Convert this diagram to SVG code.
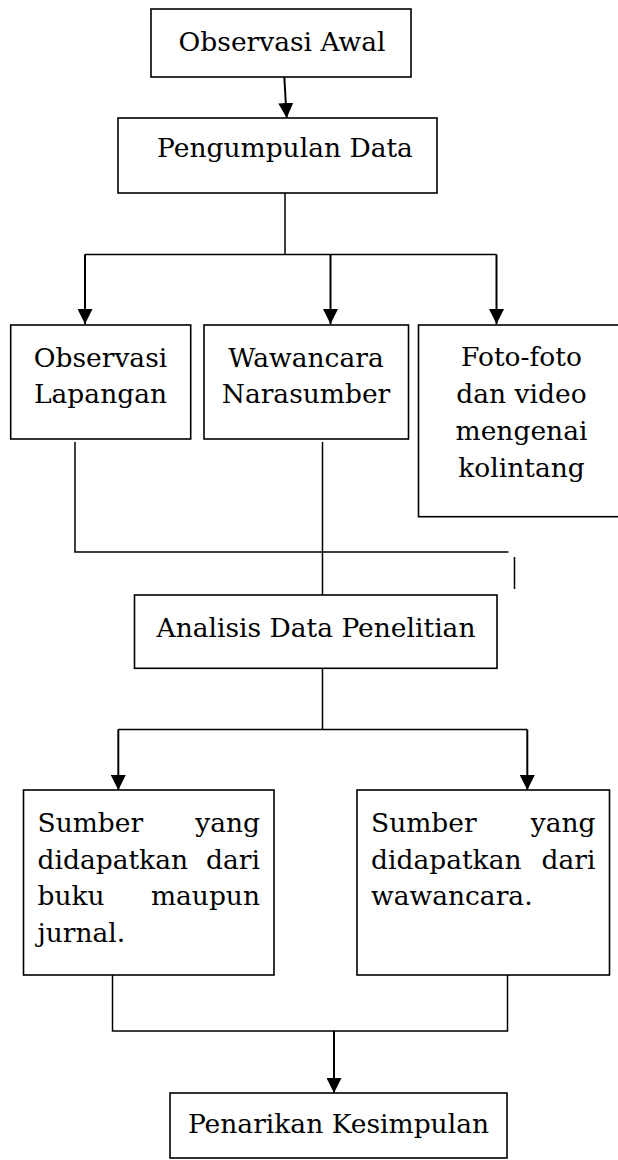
<svg xmlns="http://www.w3.org/2000/svg" width="618" height="1160" viewBox="0 0 618 1160">
<style>
.box{fill:#fff;stroke:#000;stroke-width:1.6}
.t{font-family:"DejaVu Serif","Liberation Serif",serif;font-size:26.5px;fill:#000}
.c{text-anchor:middle}
.e{text-anchor:end}
.ln{fill:none;stroke:#000;stroke-width:1.5}
.ar{fill:none;stroke:#000;stroke-width:2;marker-end:url(#ah)}
</style>
<defs>
<marker id="ah" markerUnits="userSpaceOnUse" markerWidth="15" markerHeight="15" refX="15" refY="7.5" orient="auto" viewBox="0 0 15 15">
<path d="M0,0 L15,7.5 L0,15 z" fill="#000"/>
</marker>
</defs>
<rect width="618" height="1160" fill="#fff"/>
<g id="connectors">
<path class="ar" d="M284.3,77 L286.7,118"/>
<path class="ln" d="M285,193 V254.5 M84.7,254.5 H496.6"/>
<path class="ar" d="M85,254.5 V324"/>
<path class="ar" d="M330.5,254.5 V324"/>
<path class="ar" d="M496.5,254.5 V324"/>
<path class="ln" d="M75,442 V552 H508.5"/>
<path class="ln" d="M322.5,442 V595"/>
<path class="ln" d="M514.5,557 V589"/>
<path class="ln" d="M322.5,668 V729.5 M118.3,729.5 H527.3"/>
<path class="ar" d="M118.3,729.5 V790"/>
<path class="ar" d="M527.3,729.5 V790"/>
<path class="ln" d="M112.5,975 V1031 H507.5 V975"/>
<path class="ar" d="M334,1031 V1093"/>
</g>
<g id="n1">
<rect class="box" x="151" y="9" width="260" height="68"/>
<text class="t c" x="282" y="51">Observasi Awal</text>
</g>
<g id="n2">
<rect class="box" x="118" y="118" width="319" height="75"/>
<text class="t c" x="285" y="157">Pengumpulan Data</text>
</g>
<g id="n3">
<rect class="box" x="10.7" y="325" width="180" height="114"/>
<text class="t c" x="100.5" y="366.5">Observasi</text>
<text class="t c" x="100.5" y="403">Lapangan</text>
</g>
<g id="n4">
<rect class="box" x="204" y="325" width="204.5" height="114"/>
<text class="t c" x="306" y="366.5">Wawancara</text>
<text class="t c" x="306" y="403">Narasumber</text>
</g>
<g id="n5">
<rect class="box" x="418.5" y="325" width="210" height="191.7"/>
<text class="t c" x="521.5" y="366">Foto-foto</text>
<text class="t c" x="521.5" y="403">dan video</text>
<text class="t c" x="521.5" y="440">mengenai</text>
<text class="t c" x="521.5" y="477">kolintang</text>
</g>
<g id="n6">
<rect class="box" x="134.5" y="595" width="362.5" height="73.3"/>
<text class="t c" x="316" y="637">Analisis Data Penelitian</text>
</g>
<g id="n7">
<rect class="box" x="23.5" y="790" width="250.5" height="185"/>
<text class="t" x="37.5" y="832">Sumber</text>
<text class="t e" x="260" y="832">yang</text>
<text class="t" x="37.5" y="868.5">didapatkan</text>
<text class="t e" x="260" y="868.5">dari</text>
<text class="t" x="37.5" y="905">buku</text>
<text class="t e" x="260" y="905">maupun</text>
<text class="t" x="37.5" y="941.5">jurnal.</text>
</g>
<g id="n8">
<rect class="box" x="357" y="790" width="252.5" height="185"/>
<text class="t" x="371" y="832">Sumber</text>
<text class="t e" x="595.5" y="832">yang</text>
<text class="t" x="371" y="868.5">didapatkan</text>
<text class="t e" x="595.5" y="868.5">dari</text>
<text class="t" x="371" y="905">wawancara.</text>
</g>
<g id="n9">
<rect class="box" x="170" y="1093" width="337" height="65"/>
<text class="t c" x="338.5" y="1133">Penarikan Kesimpulan</text>
</g>
</svg>
